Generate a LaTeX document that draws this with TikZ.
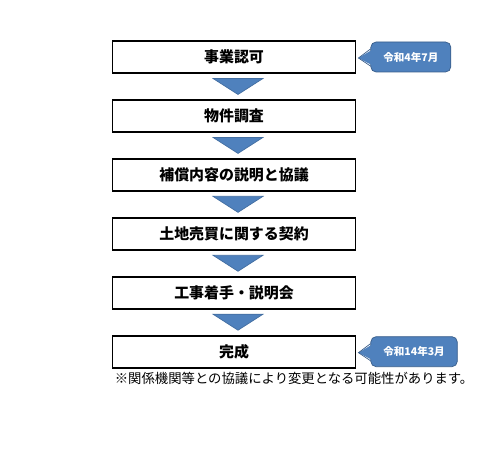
\documentclass[tikz,border=0pt]{standalone}
\usepackage{fontspec}
\setmainfont{Noto Sans CJK JP}
\usetikzlibrary{positioning,calc}
\definecolor{officeblue}{HTML}{4F81BD}
\definecolor{darkblue}{HTML}{385D8A}
\tikzset{
  stage/.style={rectangle,draw=black,line width=1.1pt,fill=white,minimum width=4.86cm,minimum height=0.64cm,inner sep=0pt,font=\fontsize{8.5}{10}\selectfont\bfseries},
  datenote/.style={rectangle,rounded corners=3pt,draw=darkblue,fill=officeblue,text=white,inner xsep=0.25cm,inner ysep=0pt,minimum height=0.6cm,font=\fontsize{6}{7}\selectfont\bfseries},
  downmark/.style={fill=officeblue,draw=officeblue!85!black,line width=0.4pt},
  wedge/.style={fill=officeblue},
  wedgeline/.style={draw=darkblue,line width=0.4pt},
  remark/.style={font=\fontsize{7.6}{9}\selectfont,inner sep=0pt,anchor=north west}
}

\begin{document}
\begin{tikzpicture}
  \useasboundingbox (0,0) rectangle (10,9);
  % steps
  \node[stage] (s1) at (4.68,7.86) {事業認可};
  \node[stage,below=0.50cm of s1] (s2) {物件調査};
  \node[stage,below=0.50cm of s2] (s3) {補償内容の説明と協議};
  \node[stage,below=0.50cm of s3] (s4) {土地売買に関する契約};
  \node[stage,below=0.50cm of s4] (s5) {工事着手・説明会};
  \node[stage,below=0.50cm of s5] (s6) {完成};
  % arrows between steps
  \foreach \a/\b in {s1/s2,s2/s3,s3/s4,s4/s5,s5/s6}{
    \coordinate (m) at ($(\a.south)!0.5!(\b.north)+(0.08,0)$);
    \filldraw[downmark] ($(m)+(-0.5,0.16)$) -- ($(m)+(0.5,0.16)$) -- ($(m)+(0,-0.16)$) -- cycle;
  }
  % dates
  \node[datenote,right=0.28cm of s1] (d1) {令和4年7月};
  \node[datenote,right=0.28cm of s6] (d2) {令和14年3月};
  \foreach \d in {d1,d2}{
    \fill[wedge] ($(\d.west)+(0.06,0.16)$) -- ($(\d.west)+(-0.24,-0.02)$) -- ($(\d.west)+(0.06,-0.18)$) -- cycle;
    \draw[wedgeline] ($(\d.west)+(0,0.16)$) -- ($(\d.west)+(-0.24,-0.02)$) -- ($(\d.west)+(0,-0.18)$);
  }
  % note
  \node[remark] (note) at ($(s6.south west)+(0.06,-0.06)$) {※関係機関等との協議により変更となる可能性があります。};
\end{tikzpicture}
\end{document}
